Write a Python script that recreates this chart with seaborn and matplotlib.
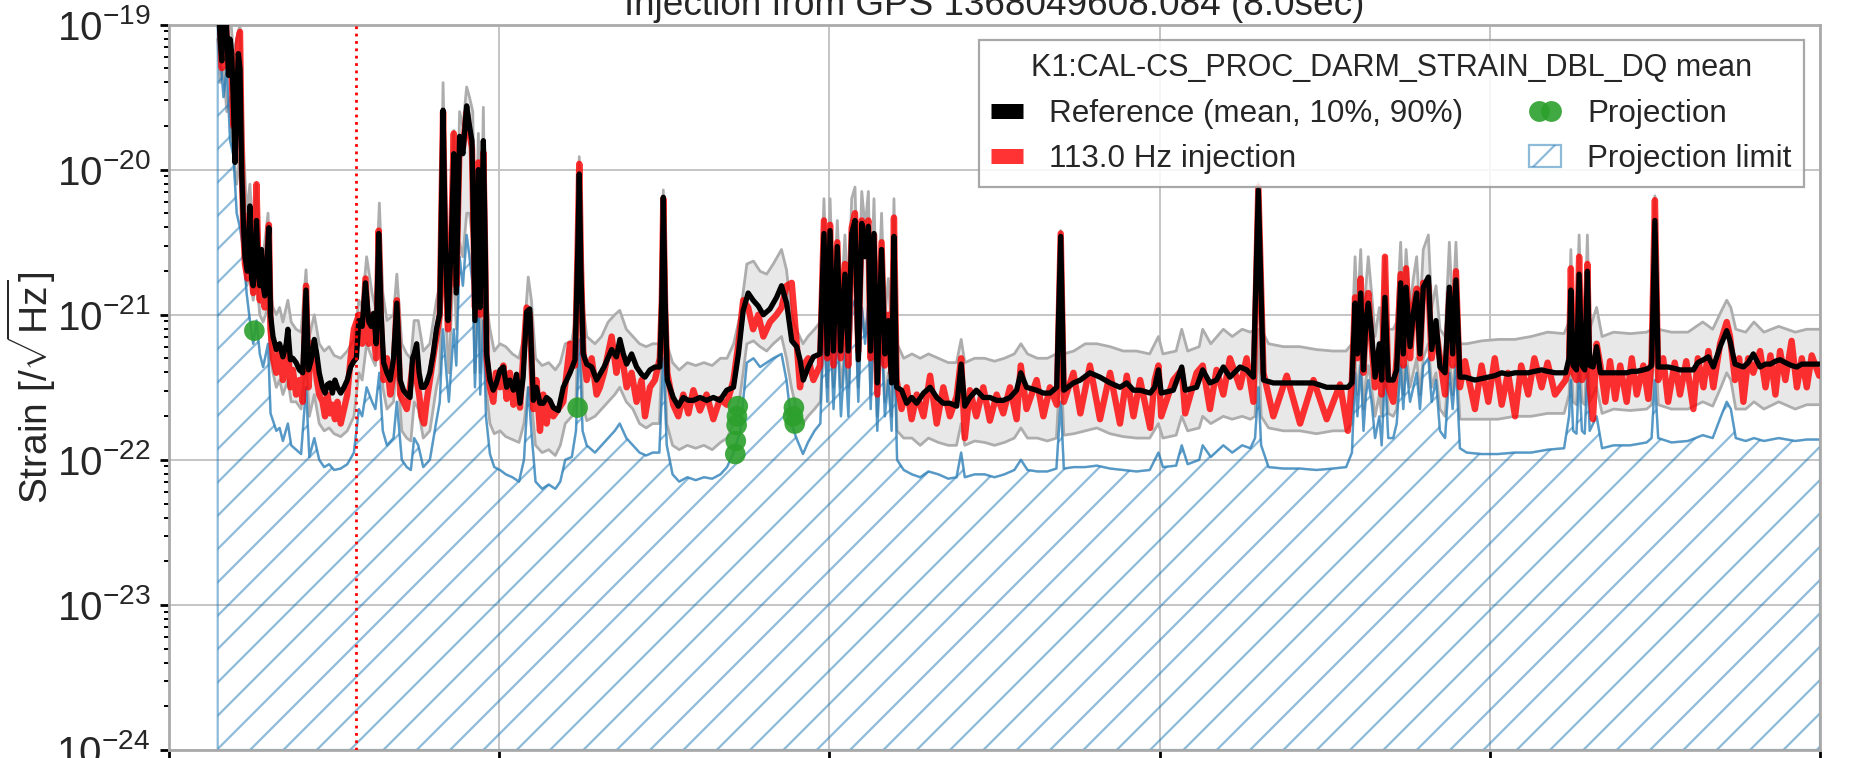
import numpy as np
import matplotlib
matplotlib.use('Agg')
import matplotlib.pyplot as plt
from matplotlib.lines import Line2D
from matplotlib.patches import Patch
from matplotlib.legend_handler import HandlerLine2D
import seaborn as sns

# reference mean and injection spectra (log10 of strain)
freq = [29.5, 31, 32, 33, 34.5, 36, 37, 38, 39, 40, 41, 42, 43, 44, 45, 46, 47.5, 49, 50, 51,
        52, 53, 54, 55, 56, 57, 58, 59.5, 60.5, 61.5, 63, 65, 67, 69, 71, 72, 73.5, 75, 77, 79,
        81, 83, 84.5, 86, 88, 89.5, 91, 93, 94.5, 96, 97.5, 99, 100.5, 102, 104, 106, 108, 110, 112, 113.5,
        115, 117, 119, 121, 122.5, 124, 125.5, 127, 128.5, 130, 132, 134, 136, 138, 140, 142, 144, 146, 147.5, 148.5,
        150, 151.5, 153, 154.5, 156, 158, 160, 162, 164, 166, 167.5, 169, 171, 172.5, 174, 176, 178, 180.3, 182, 183.5,
        185.3, 187.4, 188.4, 190.4, 191.5, 192.4, 194.4, 196.4, 198, 200.5, 202.5, 204.5, 206.5, 208.6, 210.5, 212.6, 214.5, 216.6, 218.5, 220.7,
        222.5, 224.7, 226.7, 228.7, 230.7, 232.8, 235.8, 238.8, 242.9, 245.9, 247.5, 248.5, 249.5, 250.9, 253, 256, 259, 261, 263.5, 268.1,
        271, 273.1, 275.2, 277.2, 280.2, 283.2, 286.2, 288.3, 291.3, 294.3, 297.3, 298.5, 299.4, 300.5, 301.8, 305.4, 308.5, 311.5, 314.6, 317.6,
        321.6, 325.6, 329.7, 333.7, 337.8, 341.9, 344.9, 347.8, 350.8, 353.8, 356.9, 360, 364, 368, 371, 374.1, 377.2, 380.2, 382.2, 384.2,
        387.2, 390.3, 394.3, 396.7, 398.7, 400.4, 402.4, 404.8, 406.8, 409.4, 411.4, 413.5, 415.5, 417.5, 419.6, 421.6, 423.6, 424.9, 427, 429,
        431.6, 433.6, 435.7, 437.7, 439.1, 440.7, 443.7, 446.8, 449.8, 452.9, 457, 461, 465, 469, 473, 477.1, 479.8, 482, 485.1, 489,
        493.2, 497.2, 501.3, 505.3, 509.4, 513.4, 515.9, 519.4, 525.5, 529.6, 533.6, 537.7, 540.1, 542, 547.8, 552, 557.8, 563.9, 570, 576,
        580.1, 584.2, 588.2, 594.3, 597, 599.3, 601, 608.3, 613.4, 615.5, 622.4, 626.1, 630.5, 634.5, 638.6, 642.6, 648.7, 652.7, 656.8, 659.8,
        662.9, 668.9, 677, 685.1, 693.2, 701.2, 709.3, 714, 716.5, 718.4, 719.8, 721.8, 723.5, 725, 726.4, 728.4, 730.5, 733.1, 734.5, 736.5,
        738.5, 741.5, 743.6, 746, 747.6, 749.3, 751.7, 753.7, 755.7, 757.7, 759.7, 762.8, 764.8, 767.4, 769.8, 772.9, 775.5, 777.5, 779.5, 781.9,
        785, 791, 795, 799.1, 803, 807.2, 811, 815.3, 819, 823.3, 827, 831.4, 835, 839.5, 845.9, 848, 849.1, 850.5, 852.5, 854.1,
        855.8, 857.5, 859.1, 860.5, 862.5, 864.7, 867, 870, 872.8, 876, 879, 882.9, 886, 889, 893, 896, 898, 900, 902, 905,
        908, 912, 915.2, 919, 923.3, 926, 929.4, 932.4, 935.4, 939.5, 943.5, 945.5, 948.5, 951, 953.6, 956.5, 959.6, 963.7, 967, 970,
        973, 975.8, 979, 982.8, 986, 989, 992, 995, 999.5]

mean_exp = [-18.8, -19.1, -19.25, -18.85, -18.9, -19.35, -19.1, -19.2, -19.55, -19.95, -19.5, -19.2, -19.3, -20.0, -20.35, -20.6, -20.7, -20.25, -20.75, -20.8,
            -20.6, -20.35, -20.7, -20.8, -20.55, -20.8, -20.87, -20.6, -20.4, -21.0, -21.15, -21.24, -21.2, -21.29, -21.2, -21.1, -21.31, -21.3, -21.33, -21.38,
            -21.4, -20.83, -21.38, -21.32, -21.17, -21.27, -21.4, -21.5, -21.54, -21.48, -21.47, -21.54, -21.45, -21.5, -21.54, -21.5, -21.45, -21.36, -21.32, -21.3,
            -21.04, -21.08, -20.78, -21.05, -21.08, -20.99, -21.2, -20.44, -21.0, -21.33, -21.4, -21.45, -21.3, -20.92, -21.45, -21.52, -21.55, -21.57, -21.3, -21.27,
            -21.2, -21.4, -21.5, -21.5, -21.47, -21.4, -21.27, -21.1, -20.99, -19.59, -20.6, -21.04, -20.5, -19.89, -20.85, -19.77, -19.89, -19.56, -19.7, -19.8,
            -21.04, -20.0, -20.95, -19.8, -20.5, -21.27, -21.45, -21.52, -21.48, -21.38, -21.36, -21.5, -21.45, -21.52, -21.41, -21.61, -21.43, -20.98, -20.96, -21.59,
            -21.5, -21.61, -21.61, -21.57, -21.59, -21.64, -21.66, -21.5, -21.4, -21.31, -20.6, -20.03, -20.7, -21.27, -21.34, -21.36, -21.45, -21.41, -21.36, -21.24,
            -21.29, -21.17, -21.27, -21.34, -21.27, -21.36, -21.41, -21.43, -21.38, -21.36, -21.36, -20.9, -20.19, -20.9, -21.45, -21.57, -21.63, -21.57, -21.59, -21.59,
            -21.57, -21.59, -21.57, -21.59, -21.52, -21.5, -21.27, -20.97, -20.85, -20.9, -20.94, -21.0, -20.96, -20.88, -20.8, -20.92, -21.18, -21.22, -21.31, -21.45,
            -21.36, -21.29, -21.27, -20.44, -21.27, -20.42, -21.25, -20.53, -21.25, -20.72, -21.25, -20.44, -20.35, -21.31, -20.37, -20.6, -20.39, -21.25, -20.44, -21.47,
            -20.55, -21.27, -21.04, -21.47, -20.46, -21.5, -21.52, -21.61, -21.57, -21.61, -21.54, -21.5, -21.57, -21.61, -21.61, -21.63, -21.34, -21.63, -21.57, -21.52,
            -21.57, -21.57, -21.59, -21.59, -21.57, -21.52, -21.4, -21.5, -21.52, -21.54, -21.54, -21.5, -20.46, -21.52, -21.47, -21.45, -21.4, -21.43, -21.47, -21.5,
            -21.47, -21.52, -21.52, -21.54, -21.5, -21.38, -21.54, -21.52, -21.36, -21.52, -21.5, -21.38, -21.47, -21.45, -21.36, -21.43, -21.36, -21.38, -21.43, -20.14,
            -21.45, -21.47, -21.47, -21.47, -21.47, -21.5, -21.5, -21.5, -21.47, -20.92, -21.27, -20.85, -21.38, -21.04, -20.92, -21.13, -21.43, -21.2, -21.45, -20.88,
            -21.45, -21.45, -21.38, -20.78, -21.27, -20.81, -21.22, -20.99, -20.85, -21.27, -20.81, -20.74, -21.24, -21.04, -21.36, -21.4, -20.81, -21.27, -20.76, -21.43,
            -21.43, -21.45, -21.44, -21.43, -21.42, -21.4, -21.41, -21.4, -21.4, -21.4, -21.39, -21.38, -21.39, -21.4, -21.4, -21.3, -20.83, -21.35, -21.38, -20.72,
            -21.35, -21.38, -20.70, -21.35, -21.36, -21.22, -21.4, -21.4, -21.4, -21.4, -21.4, -21.4, -21.39, -21.39, -21.38, -21.37, -21.35, -20.35, -21.36, -21.36,
            -21.36, -21.37, -21.38, -21.38, -21.38, -21.33, -21.31, -21.29, -21.36, -21.22, -21.11, -21.18, -21.34, -21.35, -21.36, -21.33, -21.27, -21.36, -21.34, -21.34,
            -21.32, -21.31, -21.33, -21.35, -21.36, -21.34, -21.34, -21.34, -21.34]

inj_exp = [-18.9, -19.0, -19.3, -18.9, -19.0, -19.3, -19.2, -19.35, -19.7, -19.6, -19.3, -19.1, -19.05, -19.9, -20.4, -20.65, -20.75, -20.3, -20.7, -20.85,
           -20.45, -20.1, -20.6, -20.9, -20.6, -20.9, -20.95, -20.65, -20.38, -21.1, -21.3, -21.4, -21.25, -21.45, -21.35, -21.2, -21.5, -21.38, -21.55, -21.45,
           -21.6, -20.8, -21.5, -21.2, -21.25, -21.45, -21.55, -21.6, -21.7, -21.55, -21.68, -21.62, -21.72, -21.6, -21.75, -21.65, -21.55, -21.3, -21.1, -21.05,
           -21.0, -21.2, -20.75, -21.2, -21.0, -21.15, -21.3, -20.42, -21.1, -21.45, -21.3, -21.55, -21.4, -20.9, -21.55, -21.6, -21.65, -21.5, -21.35, -21.3,
           -21.45, -21.55, -21.7, -21.75, -21.6, -21.45, -21.3, -21.15, -21.0, -19.6, -20.7, -21.1, -20.45, -19.75, -20.8, -19.8, -19.85, -19.6, -19.75, -19.85,
           -20.95, -19.95, -21.0, -19.88, -20.6, -21.3, -21.5, -21.6, -21.4, -21.5, -21.35, -21.58, -21.4, -21.62, -21.48, -21.64, -21.3, -20.95, -21.0, -21.65,
           -21.45, -21.8, -21.55, -21.75, -21.6, -21.7, -21.65, -21.6, -21.2, -21.35, -20.55, -19.96, -20.65, -21.25, -21.45, -21.3, -21.55, -21.5, -21.4, -21.15,
           -21.4, -21.25, -21.35, -21.5, -21.4, -21.6, -21.45, -21.7, -21.5, -21.45, -21.3, -20.9, -20.2, -20.95, -21.4, -21.62, -21.7, -21.55, -21.68, -21.52,
           -21.66, -21.55, -21.72, -21.58, -21.62, -21.45, -21.2, -20.9, -20.95, -21.1, -21.0, -21.15, -21.05, -21.0, -20.95, -20.8, -20.78, -21.2, -21.5, -21.35,
           -21.3, -21.45, -21.35, -20.35, -21.3, -20.38, -21.35, -20.5, -21.3, -20.65, -21.35, -20.4, -20.3, -21.25, -20.35, -20.5, -20.35, -21.3, -20.45, -21.55,
           -20.5, -21.35, -21.0, -21.4, -20.33, -21.45, -21.65, -21.5, -21.72, -21.55, -21.7, -21.42, -21.75, -21.5, -21.7, -21.56, -21.3, -21.85, -21.52, -21.7,
           -21.5, -21.73, -21.55, -21.68, -21.5, -21.72, -21.35, -21.65, -21.45, -21.7, -21.5, -21.62, -20.44, -21.6, -21.4, -21.68, -21.35, -21.72, -21.4, -21.75,
           -21.42, -21.7, -21.45, -21.78, -21.45, -21.35, -21.7, -21.45, -21.38, -21.68, -21.4, -21.35, -21.65, -21.38, -21.55, -21.3, -21.5, -21.3, -21.6, -20.12,
           -21.4, -21.7, -21.42, -21.75, -21.45, -21.72, -21.48, -21.8, -21.45, -20.88, -21.3, -20.75, -21.4, -21.0, -20.85, -21.2, -21.5, -21.25, -21.55, -20.6,
           -21.5, -21.6, -21.3, -20.72, -21.35, -20.68, -21.3, -20.95, -20.82, -21.3, -20.78, -20.8, -21.3, -21.1, -21.3, -21.55, -20.85, -21.35, -20.7, -21.5,
           -21.32, -21.65, -21.35, -21.6, -21.3, -21.62, -21.4, -21.7, -21.35, -21.55, -21.3, -21.5, -21.33, -21.55, -21.45, -21.35, -20.68, -21.4, -21.45, -20.6,
           -21.45, -21.4, -20.65, -21.5, -21.72, -21.2, -21.35, -21.6, -21.32, -21.58, -21.35, -21.6, -21.3, -21.55, -21.35, -21.58, -21.3, -20.21, -21.45, -21.3,
           -21.6, -21.33, -21.55, -21.32, -21.65, -21.3, -21.5, -21.25, -21.5, -21.2, -21.05, -21.15, -21.45, -21.3, -21.6, -21.3, -21.4, -21.25, -21.5, -21.28,
           -21.55, -21.25, -21.45, -21.18, -21.5, -21.3, -21.5, -21.28, -21.42]

# 10%/90% reference band and projection limit (log10)
band_freq = [29.5, 31, 33, 35, 37, 39, 41, 43, 45, 47, 49, 51, 53, 55, 57, 60, 61.5, 63, 65, 67,
             69, 72, 74, 77, 80, 83, 85, 88, 91, 94, 97, 100, 104, 108, 112, 115, 117, 119.7, 123, 125,
             127.4, 129.5, 132, 136, 138, 141, 144, 146.5, 148.5, 151, 154, 158, 162, 164, 166, 168, 169.5, 172.5, 174, 176,
             178, 180.3, 182, 184, 185.3, 187.4, 188.5, 190.4, 192, 194.4, 197, 200.5, 204, 208, 212, 215, 217.6, 219.5, 222, 226,
             230, 234, 237, 240, 244, 246.5, 248.5, 250.5, 253, 258, 262, 266, 270, 273, 277, 281, 285, 289, 293, 297,
             299.4, 301.5, 305, 309, 314, 319, 324, 329, 334, 338, 342, 346, 350, 354, 358, 362, 366, 371, 374, 377,
             380, 384, 387, 391, 394.5, 396.7, 398.7, 400.4, 402.5, 404.8, 407, 409.4, 411.5, 413.5, 415.5, 417.5, 419.6, 421.6, 423.6, 425,
             427, 429, 431.6, 433.6, 435.7, 437.7, 439.1, 441, 445, 450, 455, 460, 466, 472, 477, 479.8, 482, 488, 494, 500,
             506, 512, 516, 520, 526, 532, 537.5, 540.1, 542, 548, 555, 562, 570, 578, 586, 594, 599.3, 602, 610, 613.4,
             617, 624, 626.1, 631, 638.6, 644, 650, 655, 657.8, 659.8, 661.5, 666, 675, 685, 695, 705, 713, 716.5, 718.4, 719.8,
             721.8, 723.5, 725, 726.4, 728.4, 730.5, 733.1, 734.5, 736.5, 738.5, 741.5, 743.6, 746, 747.6, 749.3, 751.7, 753.7, 755.7, 757.7, 759.7,
             762.8, 764.8, 767.4, 769.8, 772.9, 775.5, 777.5, 779.5, 781.9, 786, 795, 805, 815, 825, 835, 845, 848, 849.1, 850.5, 852.5,
             854.1, 855.8, 857.5, 859.1, 860.5, 864.7, 868, 875, 885, 895, 898, 900, 902, 910, 920, 929, 935, 940, 943.5, 946,
             949, 955, 960, 966, 975, 985, 992, 1000]

p90_exp = [-18.7, -18.9, -18.8, -18.9, -18.9, -19.2, -19.1, -19.0, -19.8, -20.3, -20.1, -20.5, -20.1, -20.55, -20.6, -20.3, -20.85, -20.95, -21.0, -20.95,
           -21.05, -20.9, -21.05, -21.1, -21.12, -20.69, -21.15, -21.0, -21.2, -21.25, -21.22, -21.28, -21.3, -21.25, -21.17, -20.9, -20.95, -20.6, -20.85, -20.95,
           -20.23, -20.85, -21.04, -21.0, -20.72, -21.2, -21.27, -21.3, -21.04, -21.04, -21.25, -21.2, -20.9, -20.8, -19.4, -20.5, -20.85, -19.73, -20.6, -19.6,
           -19.7, -19.43, -19.5, -19.6, -20.8, -19.75, -20.8, -19.57, -20.9, -21.1, -21.25, -21.2, -21.22, -21.27, -21.3, -21.15, -20.74, -20.9, -21.3, -21.35,
           -21.33, -21.38, -21.33, -21.2, -21.18, -21.0, -19.91, -20.9, -21.15, -21.2, -21.15, -21.05, -21.0, -20.97, -21.1, -21.15, -21.2, -21.22, -21.2, -21.2,
           -20.14, -21.2, -21.33, -21.38, -21.33, -21.35, -21.33, -21.35, -21.3, -21.3, -21.2, -21.0, -20.65, -20.63, -20.7, -20.72, -20.65, -20.55, -20.69, -21.0,
           -21.1, -21.2, -21.15, -21.1, -21.05, -20.2, -20.95, -20.2, -20.95, -20.35, -20.95, -20.45, -20.95, -20.2, -20.12, -20.95, -20.15, -20.4, -20.15, -20.95,
           -20.2, -21.1, -20.3, -21.0, -20.75, -21.1, -20.2, -21.2, -21.3, -21.27, -21.3, -21.27, -21.3, -21.33, -21.33, -21.17, -21.33, -21.3, -21.3, -21.32,
           -21.3, -21.27, -21.2, -21.27, -21.3, -21.3, -21.27, -20.42, -21.27, -21.25, -21.2, -21.2, -21.22, -21.25, -21.25, -21.27, -21.15, -21.27, -21.25, -21.1,
           -21.25, -21.22, -21.1, -21.2, -21.1, -21.15, -21.1, -21.12, -21.1, -20.09, -21.1, -21.2, -21.22, -21.22, -21.24, -21.25, -21.25, -21.2, -20.6, -21.0,
           -20.55, -21.1, -20.8, -20.6, -20.85, -21.15, -20.95, -21.15, -20.6, -21.1, -21.1, -21.05, -20.5, -21.0, -20.55, -20.95, -20.75, -20.6, -21.0, -20.55,
           -20.45, -20.95, -20.8, -21.1, -21.15, -20.5, -21.0, -20.5, -21.2, -21.2, -21.18, -21.17, -21.17, -21.15, -21.12, -21.13, -21.05, -20.55, -21.1, -21.1,
           -20.45, -21.1, -21.1, -20.45, -21.1, -20.95, -21.15, -21.12, -21.13, -21.12, -21.1, -20.18, -21.1, -21.12, -21.12, -21.05, -21.1, -20.98, -20.9, -20.95,
           -21.1, -21.12, -21.05, -21.12, -21.08, -21.12, -21.1, -21.1]

p10_exp = [-19.1, -19.4, -19.3, -19.6, -19.5, -19.9, -20.1, -19.9, -20.5, -20.8, -20.75, -20.9, -20.75, -21.0, -21.05, -20.95, -21.3, -21.4, -21.5, -21.45,
           -21.55, -21.45, -21.6, -21.6, -21.65, -21.3, -21.7, -21.55, -21.75, -21.8, -21.78, -21.82, -21.84, -21.8, -21.7, -21.4, -21.45, -21.2, -21.3, -21.35,
           -20.9, -21.5, -21.65, -21.6, -21.3, -21.8, -21.85, -21.87, -21.6, -21.65, -21.85, -21.8, -21.5, -21.4, -20.5, -21.1, -21.4, -20.6, -21.1, -20.5,
           -20.6, -20.3, -20.3, -20.5, -21.4, -20.6, -21.4, -20.5, -21.5, -21.75, -21.82, -21.8, -21.84, -21.86, -21.88, -21.75, -21.5, -21.6, -21.9, -21.95,
           -21.93, -21.97, -21.9, -21.75, -21.7, -21.6, -20.8, -21.6, -21.73, -21.7, -21.65, -21.6, -21.55, -21.5, -21.6, -21.65, -21.75, -21.78, -21.75, -21.75,
           -21.0, -21.75, -21.9, -21.93, -21.9, -21.92, -21.9, -21.93, -21.88, -21.85, -21.75, -21.55, -21.2, -21.18, -21.22, -21.25, -21.2, -21.15, -21.3, -21.5,
           -21.65, -21.75, -21.7, -21.65, -21.6, -21.1, -21.5, -21.05, -21.5, -21.1, -21.5, -21.2, -21.5, -21.0, -20.9, -21.5, -20.95, -21.15, -20.95, -21.55,
           -21.0, -21.7, -21.1, -21.6, -21.4, -21.7, -21.1, -21.8, -21.85, -21.85, -21.9, -21.85, -21.88, -21.9, -21.9, -21.75, -21.9, -21.87, -21.88, -21.9,
           -21.88, -21.85, -21.78, -21.85, -21.85, -21.87, -21.85, -21.3, -21.83, -21.82, -21.8, -21.78, -21.82, -21.84, -21.85, -21.85, -21.75, -21.85, -21.83, -21.7,
           -21.8, -21.78, -21.7, -21.75, -21.7, -21.72, -21.7, -21.72, -21.7, -21.1, -21.7, -21.78, -21.8, -21.8, -21.82, -21.8, -21.8, -21.75, -21.3, -21.55,
           -21.3, -21.65, -21.45, -21.35, -21.5, -21.7, -21.55, -21.7, -21.3, -21.68, -21.7, -21.65, -21.25, -21.55, -21.25, -21.5, -21.4, -21.3, -21.55, -21.3,
           -21.2, -21.5, -21.4, -21.65, -21.7, -21.3, -21.55, -21.25, -21.72, -21.72, -21.72, -21.72, -21.7, -21.7, -21.68, -21.68, -21.55, -21.25, -21.6, -21.62,
           -21.2, -21.6, -21.62, -21.2, -21.6, -21.5, -21.68, -21.65, -21.66, -21.65, -21.62, -21.1, -21.62, -21.65, -21.65, -21.6, -21.63, -21.5, -21.4, -21.45,
           -21.65, -21.65, -21.6, -21.65, -21.6, -21.65, -21.62, -21.62]

lim_exp = [-19.0, -19.2, -19.5, -19.3, -19.8, -19.9, -20.3, -20.4, -20.55, -20.85, -21.04, -21.2, -21.04, -21.27, -21.36, -21.2, -21.68, -21.73, -21.8, -21.78,
           -21.87, -21.75, -21.9, -21.93, -21.96, -21.5, -21.98, -21.85, -22.0, -22.05, -22.03, -22.07, -22.06, -22.03, -21.95, -21.65, -21.7, -21.5, -21.6, -21.65,
           -21.4, -21.8, -21.9, -21.85, -21.6, -22.0, -22.05, -22.07, -21.85, -21.9, -22.05, -22.0, -21.73, -21.6, -21.1, -21.4, -21.6, -21.1, -21.35, -20.6,
           -20.8, -20.45, -20.6, -20.8, -21.5, -20.8, -21.55, -21.04, -21.7, -21.96, -22.05, -22.07, -22.1, -22.12, -22.15, -22.0, -21.5, -21.8, -22.15, -22.2,
           -22.17, -22.2, -22.15, -22.0, -21.98, -21.8, -21.17, -21.8, -21.9, -21.95, -21.9, -21.85, -21.8, -21.75, -21.85, -21.9, -21.95, -21.97, -21.95, -21.95,
           -21.3, -21.9, -22.1, -22.15, -22.12, -22.14, -22.12, -22.13, -22.1, -22.05, -21.95, -21.8, -21.33, -21.3, -21.36, -21.33, -21.3, -21.27, -21.45, -21.75,
           -21.85, -21.96, -21.88, -21.8, -21.75, -21.0, -21.6, -21.0, -21.65, -21.1, -21.7, -21.25, -21.7, -20.95, -20.9, -21.6, -20.95, -21.2, -20.92, -21.65,
           -21.0, -21.8, -21.1, -21.7, -21.45, -21.8, -21.1, -22.0, -22.07, -22.1, -22.12, -22.08, -22.1, -22.13, -22.12, -21.95, -22.12, -22.1, -22.1, -22.12,
           -22.1, -22.07, -22.0, -22.07, -22.08, -22.08, -22.06, -21.6, -22.06, -22.05, -22.05, -22.04, -22.06, -22.07, -22.08, -22.07, -21.95, -22.05, -22.04, -21.9,
           -22.03, -22.0, -21.9, -21.98, -21.9, -21.95, -21.9, -21.92, -21.85, -21.5, -21.9, -22.05, -22.06, -22.06, -22.07, -22.06, -22.05, -21.95, -21.4, -21.7,
           -21.35, -21.8, -21.55, -21.45, -21.6, -21.85, -21.7, -21.9, -21.4, -21.85, -21.85, -21.75, -21.35, -21.65, -21.35, -21.6, -21.5, -21.4, -21.65, -21.35,
           -21.3, -21.6, -21.45, -21.8, -21.85, -21.4, -21.65, -21.35, -21.92, -21.95, -21.96, -21.96, -21.95, -21.95, -21.93, -21.92, -21.7, -21.45, -21.8, -21.82,
           -21.4, -21.8, -21.82, -21.4, -21.8, -21.7, -21.92, -21.9, -21.9, -21.88, -21.85, -21.45, -21.85, -21.88, -21.87, -21.83, -21.85, -21.7, -21.6, -21.65,
           -21.85, -21.87, -21.85, -21.87, -21.85, -21.87, -21.86, -21.86]

# projection points (green dots)
proj_freq = [51.7, 247.5, 344.5, 344.0, 343.8, 343.3, 343.0, 378.5, 378.0, 379.0]
proj_exp = [-21.11, -21.64, -21.63, -21.70, -21.76, -21.87, -21.96, -21.64, -21.70, -21.75]

inj_freq = 113.0
title = 'Injection from GPS 1368049608.084 (8.0sec)'
channel = 'K1:CAL-CS_PROC_DARM_STRAIN_DBL_DQ mean'

sns.set_theme(style='ticks')
plt.rcParams['font.family'] = ['Liberation Sans', 'DejaVu Sans']
plt.rcParams['mathtext.fontset'] = 'custom'
plt.rcParams['mathtext.rm'] = 'Liberation Sans'
plt.rcParams['mathtext.it'] = 'Liberation Sans:italic'
plt.rcParams['mathtext.bf'] = 'Liberation Sans:bold'
plt.rcParams['hatch.linewidth'] = 0.8

mean = 10 ** np.array(mean_exp)
inj = 10 ** np.array(inj_exp)
p90 = 10 ** np.array(p90_exp)
p10 = 10 ** np.array(p10_exp)
lim = 10 ** np.array(lim_exp)
proj = 10 ** np.array(proj_exp)

W, H = 1857, 758
fig = plt.figure(figsize=(W / 200, H / 200), dpi=200)
ax = fig.add_axes([169 / W, 8 / H, 1651 / W, 725.4 / H])

blue = (0.12, 0.47, 0.71, 0.5)

ax.fill_between(band_freq, p10, p90, color='#e8e8e8', lw=0, zorder=1)
sns.lineplot(x=band_freq, y=p90, ax=ax, color='#adadad', lw=1.0, estimator=None, sort=False, zorder=1.5)
sns.lineplot(x=band_freq, y=p10, ax=ax, color='#adadad', lw=1.0, estimator=None, sort=False, zorder=1.5)

ax.fill_between(band_freq, 1e-24, lim, facecolor='none', edgecolor=blue, hatch='//', lw=0.8, zorder=2)
sns.lineplot(x=band_freq, y=lim, ax=ax, color='#1f77b4', alpha=0.5, lw=0.9, estimator=None, sort=False, zorder=2.2)

sns.lineplot(x=freq, y=inj, ax=ax, color='red', alpha=0.8, lw=2.3, estimator=None, sort=False, zorder=3)
sns.lineplot(x=freq, y=mean, ax=ax, color='black', lw=1.9, estimator=None, sort=False, zorder=4)

ax.axvline(inj_freq, color='red', ls=':', lw=1.0, zorder=4.5)

sns.scatterplot(x=proj_freq, y=proj, ax=ax, color='#2ca02c', s=55, alpha=0.9, edgecolor='none', zorder=6)

ax.set_yscale('log')
ax.set_xlim(0, 1000)
ax.set_ylim(1e-24, 1e-19)
ax.set_xticks([0, 200, 400, 600, 800, 1000])
ax.set_axisbelow(True)
ax.grid(True, which='major', color='#c4c4c4', lw=0.7)
for s in ax.spines.values():
    s.set_color('#aaaaaa')
    s.set_linewidth(1.0)
ax.tick_params(axis='both', which='major', direction='out', length=3.2, width=1.0, color='black', labelsize=14.5)
ax.tick_params(axis='y', which='minor', direction='out', length=1.8, width=0.7, color='black')
ax.tick_params(axis='x', which='minor', bottom=False)
# frequency labels fall below the cropped bottom edge
ax.tick_params(axis='x', labelbottom=False)

ax.set_title(title, fontsize=13.3, pad=3.5)
ax.set_ylabel(r'Strain [$/\sqrt{\mathrm{Hz}}$]', fontsize=14)
ax.yaxis.set_label_coords(-0.067, 0.5)

proj_handle = Line2D([], [], ls='none', marker='o', ms=7.5, color='#2ca02c', alpha=0.9, markeredgewidth=0)
handles = [Line2D([], [], color='black', lw=5.4, solid_capstyle='butt'),
           Line2D([], [], color='red', alpha=0.8, lw=5.4, solid_capstyle='butt'),
           proj_handle,
           Patch(facecolor='white', edgecolor=blue, hatch='//', lw=0.8)]
labels = ['Reference (mean, 10%, 90%)', '113.0 Hz injection', 'Projection', 'Projection limit']
leg = ax.legend(handles, labels, title=channel, ncol=2, loc='upper right', fontsize=11.3,
                title_fontsize=11, handlelength=1.0, handletextpad=0.85, columnspacing=2.1,
                labelspacing=0.5, numpoints=1, fancybox=False, framealpha=0.85,
                edgecolor='#999999', borderpad=0.4, borderaxespad=0.5,
                handler_map={proj_handle: HandlerLine2D(numpoints=2)})
leg.get_frame().set_linewidth(0.8)

fig.savefig('out.png', dpi=200)
